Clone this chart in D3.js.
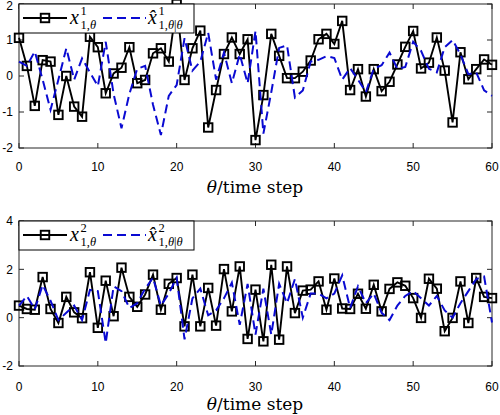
<!DOCTYPE html>
<html><head><meta charset="utf-8">
<script src="https://cdn.jsdelivr.net/npm/d3@7"></script>
<style>body{margin:0;background:#fff}svg{display:block}</style>
</head><body>
<script>
const steps = [0,1,2,3,4,5,6,7,8,9,10,11,12,13,14,15,16,17,18,19,20,21,22,23,24,25,26,27,28,29,30,31,32,33,34,35,36,37,38,39,40,41,42,43,44,45,46,47,48,49,50,51,52,53,54,55,56,57,58,59,60];
const x1 = [1.06,0.28,-0.83,0.44,0.40,-1.08,0.00,-0.85,-1.13,1.09,
  0.80,-0.48,0.07,0.23,0.80,-0.20,-0.11,0.63,0.77,0.40,
  2.00,-0.11,0.77,1.26,-1.43,-0.39,0.61,1.07,0.61,1.02,
  -1.78,-0.53,1.17,0.56,-0.06,-0.06,0.12,0.43,1.02,1.17,
  0.89,1.53,-0.39,0.19,-0.57,0.19,-0.42,-0.16,0.32,0.81,
  1.25,0.21,0.37,1.07,0.15,-1.29,0.66,-0.09,0.19,0.46,0.31];
const xh1 = [0.40,0.28,0.68,-0.10,-0.94,-0.10,0.77,-0.10,0.49,0.10,
  -0.28,0.95,-0.50,-1.45,-0.50,0.20,0.28,-0.80,-1.64,-0.55,
  -0.25,1.05,0.15,0.40,1.20,-0.10,0.65,-0.20,0.60,-0.20,
  1.25,-1.60,-0.45,0.78,0.85,-0.60,-0.40,0.40,0.45,0.55,
  0.50,-0.10,0.22,-0.10,-0.45,0.20,0.30,0.65,0.20,0.25,
  0.95,0.70,0.20,0.10,0.80,1.00,0.60,0.05,0.10,-0.40,-0.55];
const x2 = [0.50,0.36,0.33,1.68,0.36,-0.22,0.86,0.22,-0.02,1.88,
  -0.42,1.53,0.06,2.07,0.86,0.45,0.96,1.78,0.33,1.40,
  1.64,-0.36,1.78,-0.36,1.23,-0.33,2.01,0.26,2.12,-0.88,
  1.16,-0.98,2.19,-0.91,2.12,0.19,1.12,1.16,1.50,0.33,
  1.62,0.38,0.36,0.99,0.37,1.36,0.26,1.19,1.46,1.32,
  0.81,-0.01,1.61,1.20,-0.56,-0.01,1.50,-0.22,1.64,0.86,0.81];
const xh2 = [0.50,0.90,0.35,1.35,0.70,-0.10,0.20,0.50,-0.10,1.15,
  1.10,-1.05,1.30,1.10,0.40,0.60,1.20,1.65,0.50,1.00,
  1.65,-0.90,0.80,1.20,0.10,0.30,0.80,1.45,-0.30,1.40,
  -0.70,1.20,-0.70,1.40,0.60,1.60,0.00,1.00,1.00,0.80,
  1.00,1.75,0.40,1.30,0.60,1.00,0.20,-0.10,0.50,0.90,
  1.10,0.80,0.50,0.90,0.30,0.00,0.60,1.10,1.60,1.70,-0.20];
const xTicks = [0,10,20,30,40,50,60];
const yTicksTop = [-2,-1,0,1,2];
const yTicksBot = [-2,0,2,4];
const xLabel = "θ/time step";
const legendSup = ["1","2"];

const W = 500, H = 415;
const svg = d3.select("body").append("svg").attr("width", W).attr("height", H);
const axisColor = "#262626";
const blue = "#0a0ad2";

function panel(opts) {
  const {top, bottom, yDomain, yTicks, ys, yhs, sup, tickBase, labelBase} = opts;
  const x = d3.scaleLinear().domain([0,60]).range([19,492]);
  const y = d3.scaleLinear().domain(yDomain).range([bottom, top]);
  const g = svg.append("g");
  const tl = 5;
  g.append("rect").attr("x", x(0)).attr("y", top).attr("width", x(60)-x(0)).attr("height", bottom-top)
    .attr("fill","none").attr("stroke",axisColor).attr("stroke-width",1);
  xTicks.forEach(t => {
    g.append("line").attr("x1",x(t)).attr("x2",x(t)).attr("y1",bottom).attr("y2",bottom-tl).attr("stroke",axisColor);
    g.append("line").attr("x1",x(t)).attr("x2",x(t)).attr("y1",top).attr("y2",top+tl).attr("stroke",axisColor);
    g.append("text").attr("x",x(t)).attr("y",tickBase).attr("text-anchor","middle")
      .attr("font-family","Liberation Sans, Arial, sans-serif").attr("font-size",12).attr("fill","#000").text(t);
  });
  yTicks.forEach(t => {
    g.append("line").attr("x1",x(0)).attr("x2",x(0)+tl).attr("y1",y(t)).attr("y2",y(t)).attr("stroke",axisColor);
    g.append("line").attr("x1",x(60)).attr("x2",x(60)-tl).attr("y1",y(t)).attr("y2",y(t)).attr("stroke",axisColor);
    g.append("text").attr("x",13).attr("y",Math.max(y(t)+4.3, 10)).attr("text-anchor","end")
      .attr("font-family","Liberation Sans, Arial, sans-serif").attr("font-size",12).attr("fill","#000").text(t);
  });
  const xl = g.append("text").attr("x",255).attr("y",labelBase).attr("text-anchor","middle")
    .attr("font-family","DejaVu Serif, serif").attr("font-size",17).attr("fill","#000");
  xl.append("tspan").attr("font-style","italic").text(xLabel.slice(0,1));
  xl.append("tspan").text(xLabel.slice(1));

  const line = d3.line().x((d,i)=>x(steps[i])).y(d=>y(d));
  g.append("path").datum(ys).attr("d",line).attr("fill","none").attr("stroke","#000").attr("stroke-width",1.9).attr("stroke-linejoin","miter");
  const ms = 8.5;
  g.selectAll("rect.m").data(ys).enter().append("rect").attr("class","m")
    .attr("x",(d,i)=>x(steps[i])-ms/2).attr("y",d=>y(d)-ms/2).attr("width",ms).attr("height",ms)
    .attr("fill","none").attr("stroke","#000").attr("stroke-width",1.9);
  g.append("path").datum(yhs).attr("d",line).attr("fill","none").attr("stroke",blue).attr("stroke-width",2)
    .attr("stroke-dasharray","9,5");

  const lt = top, lb = top + 29, lc = top + 14;
  g.append("rect").attr("x",19).attr("y",lt).attr("width",175).attr("height",lb-lt)
    .attr("fill","#fff").attr("stroke","#000").attr("stroke-width",1);
  g.append("line").attr("x1",23).attr("x2",67).attr("y1",lc).attr("y2",lc).attr("stroke","#000").attr("stroke-width",1.9);
  g.append("rect").attr("x",45-ms/2).attr("y",lc-ms/2).attr("width",ms).attr("height",ms).attr("fill","none").attr("stroke","#000").attr("stroke-width",1.9);
  g.append("line").attr("x1",103).attr("x2",146).attr("y1",lc).attr("y2",lc).attr("stroke",blue).attr("stroke-width",2).attr("stroke-dasharray","9,5");
  const ff = "Liberation Serif, Times New Roman, serif";
  const base = lc + 6;
  function mathLabel(x0, main, supT, subT) {
    g.append("text").attr("x",x0).attr("y",base).attr("font-family",ff).attr("font-style","italic").attr("font-size",20).text(main);
    g.append("text").attr("x",x0+10.5).attr("y",base-9).attr("font-family",ff).attr("font-size",12.5).text(supT);
    const s = g.append("text").attr("x",x0+10.5).attr("y",base+4.5).attr("font-family",ff).attr("font-size",12.5);
    subT.forEach(p => s.append("tspan").attr("font-style", p.it ? "italic" : "normal").text(p.t));
  }
  mathLabel(70, "x", sup, [{t:"1,"},{t:"θ",it:true}]);
  mathLabel(148, "x\u0302", sup, [{t:"1,"},{t:"θ",it:true},{t:"|"},{t:"θ",it:true}]);
}

panel({top:4, bottom:148, yDomain:[-2,2], yTicks:yTicksTop, ys:x1, yhs:xh1, sup:legendSup[0], tickBase:171, labelBase:193});
panel({top:221, bottom:366, yDomain:[-2,4], yTicks:yTicksBot, ys:x2, yhs:xh2, sup:legendSup[1], tickBase:391, labelBase:410});
</script>
</body></html>
